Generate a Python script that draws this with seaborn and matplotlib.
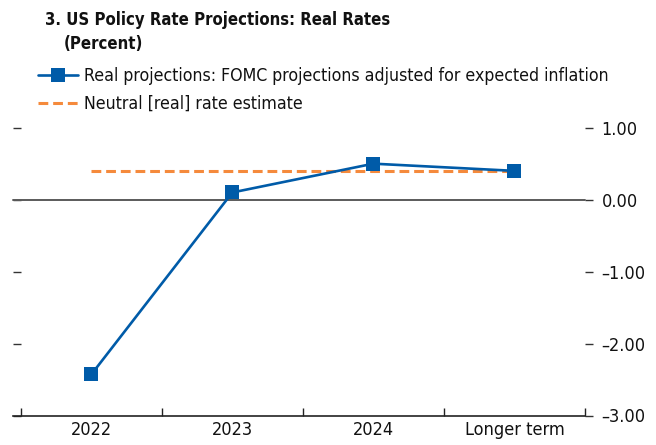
import matplotlib
matplotlib.use("Agg")
import matplotlib.pyplot as plt
import seaborn as sns
import pandas as pd
import numpy as np

# data
categories = ["2022", "2023", "2024", "Longer term"]
real_proj = [-2.43, 0.10, 0.50, 0.40]
neutral = [0.40, 0.40, 0.40, 0.40]
yticks = [1, 0, -1, -2, -3]
ytick_labels = ["1.00", "0.00", "\u20131.00", "\u20132.00", "\u20133.00"]

sns.set_theme(style="white")
plt.rcParams["font.family"] = ["DejaVu Sans"]
plt.rcParams["font.stretch"] = "condensed"
plt.rcParams["text.color"] = "#111111"
plt.rcParams["xtick.color"] = "#111111"
plt.rcParams["ytick.color"] = "#111111"

df = pd.DataFrame({"pos": np.arange(len(categories)), "cat": categories,
                   "real": real_proj, "neutral": neutral})

blue = "#005ba8"
orange = "#f58a3c"

fig = plt.figure(figsize=(6.56, 4.45), dpi=100)
ax = fig.add_axes([13/656, 1 - 415.5/445, (585-13)/656, (415.5-127.7)/445])

sns.lineplot(data=df, x="pos", y="neutral", ax=ax, color=orange, lw=2.2,
             dashes=False, label="Neutral [real] rate estimate", zorder=3)
ax.lines[-1].set_dashes((3.2, 1.6))
sns.lineplot(data=df, x="pos", y="real", ax=ax, color=blue, lw=1.9,
             marker="s", markersize=10, markeredgewidth=0,
             label="Real projections: FOMC projections adjusted for expected inflation",
             zorder=4)

ax.axhline(0, color="#5a5a5a", lw=1.4, zorder=2)

ax.set_xlim(-0.555, 3.5)
ax.set_ylim(-3, 1)
ax.set_xlabel("")
ax.set_ylabel("")

# category boundary ticks on bottom, labels at centres
ax.set_xticks(np.arange(len(categories) + 1) - 0.5)
ax.set_xticklabels([])
ax.set_xticks(df["pos"], minor=True)
ax.set_xticklabels(categories, minor=True, fontsize=13)
ax.tick_params(axis="x", which="major", bottom=True, direction="in", length=6,
               width=1, color="#222222")
ax.tick_params(axis="x", which="minor", bottom=True, length=0, pad=4)

ax.set_yticks(yticks)
ax.set_yticklabels(ytick_labels, fontsize=13)
ax.yaxis.tick_right()
ax.tick_params(axis="y", which="major", direction="out", length=6, width=1,
               color="#333333", pad=6, left=True, labelleft=False)
for t in ax.yaxis.get_major_ticks():
    t.tick1line.set_markersize(6)
    t.tick1line.set_marker(matplotlib.lines.TICKRIGHT)

for s in ["top", "left", "right"]:
    ax.spines[s].set_visible(False)
ax.spines["bottom"].set_color("#222222")
ax.spines["bottom"].set_linewidth(1.2)

for ln in ax.lines:
    ln.set_clip_on(False)

h, l = ax.get_legend_handles_labels()
leg = fig.legend(h[::-1], l[::-1], loc="upper left", bbox_to_anchor=(38/656, 1 - 67/445),
                 frameon=False, fontsize=12.7, handlelength=2.25, handletextpad=0.35,
                 labelspacing=0.55, borderpad=0, borderaxespad=0)
if ax.get_legend():
    ax.get_legend().remove()

fig.text(45/656, 1 - 11/445, "3. US Policy Rate Projections: Real Rates",
         fontsize=12, fontweight="bold", va="top", ha="left")
fig.text(64/656, 1 - 35/445, "(Percent)",
         fontsize=12, fontweight="bold", va="top", ha="left")

fig.savefig("out.png", dpi=100)
